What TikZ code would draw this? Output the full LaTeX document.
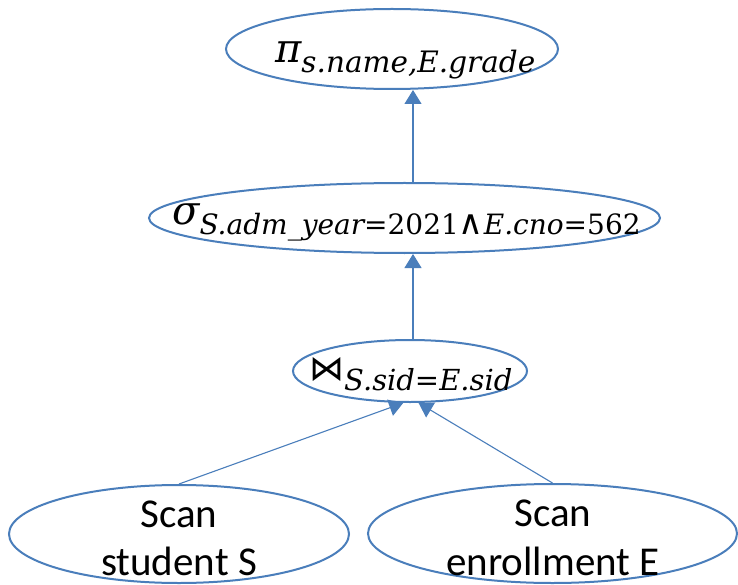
\documentclass[tikz,border=0pt]{standalone}
\usepackage{fontspec}
\setmainfont{Carlito}
\newfontfamily\opserif{DejaVu Serif}
\newfontfamily\opsans{DejaVu Sans}
\usetikzlibrary{arrows.meta,shapes.geometric}
\definecolor{edgeblue}{RGB}{74,126,187}
% operator symbol followed by its lowered subscript condition
\newcommand{\opsym}[1]{{\fontsize{40}{48}\selectfont #1}}
\newcommand{\opcond}[2][29]{\raisebox{-10pt}{\fontsize{#1}{34}\selectfont\opserif #2}}
\newcommand{\vi}[1]{{\itshape #1}}
\newcommand{\opand}{{\fontsize{34}{34}\selectfont\opsans ∧}}
\begin{document}
\begin{tikzpicture}[x=1pt,y=-1pt,
  opnode/.style={ellipse, draw=edgeblue, line width=2pt, inner sep=0pt, fill=none},
  mathlbl/.style={anchor=base west, inner sep=0pt},
  scanlbl/.style={anchor=base, inner sep=0pt, font=\fontsize{41}{48}\selectfont},
  conn/.style={draw=edgeblue, line width=1.1pt, -{Triangle[width=17pt,length=14pt]}}]
  \useasboundingbox[fill=white] (0,0) rectangle (738,585);

  % operator ellipses of the query plan
  \node[opnode, minimum width=332pt, minimum height=80pt] (proj) at (392,49) {};
  \node[opnode, minimum width=511pt, minimum height=70pt] (sel) at (404.5,218) {};
  \node[opnode, minimum width=234pt, minimum height=62pt] (join) at (410,371) {};
  \node[opnode, minimum width=340pt, minimum height=98pt] (scanS) at (179,534) {};
  \node[opnode, minimum width=369pt, minimum height=99pt] (scanE) at (552.5,533.5) {};

  % operator labels
  \node[mathlbl] (projtxt) at (275,63)
    {\opsym{\opserif\itshape π}\opcond[29.5]{\itshape s.name,E.grade}};
  \node[mathlbl] (seltxt) at (172,225)
    {\opsym{\opserif\itshape σ}\opcond[28]{\vi{S.adm\_year}=2021\opand\vi{E.cno}=562}};
  \node[mathlbl] (jointxt) at (309,380)
    {{\fontsize{35}{40}\selectfont\opsans ⋈}\opcond{\vi{S.sid}=\vi{E.sid}}};
  \node[scanlbl] (scanStop) at (179,527) {Scan};
  \node[scanlbl] (scanSbot) at (179,575) {student S};
  \node[scanlbl] (scanEtop) at (553,526) {Scan};
  \node[scanlbl] (scanEbot) at (553,575) {enrollment E};

  % data flow upwards
  \draw[conn] ([xshift=3pt]join.north) -- ([xshift=3pt]join.north |- sel.south);
  \draw[conn] ([xshift=3pt]join.north |- sel.north) -- ([xshift=3pt]join.north |- proj.south);
  \draw[conn] (scanS.north) -- (join.258);
  \draw[conn] (scanE.north) -- (join.285);
\end{tikzpicture}
\end{document}
